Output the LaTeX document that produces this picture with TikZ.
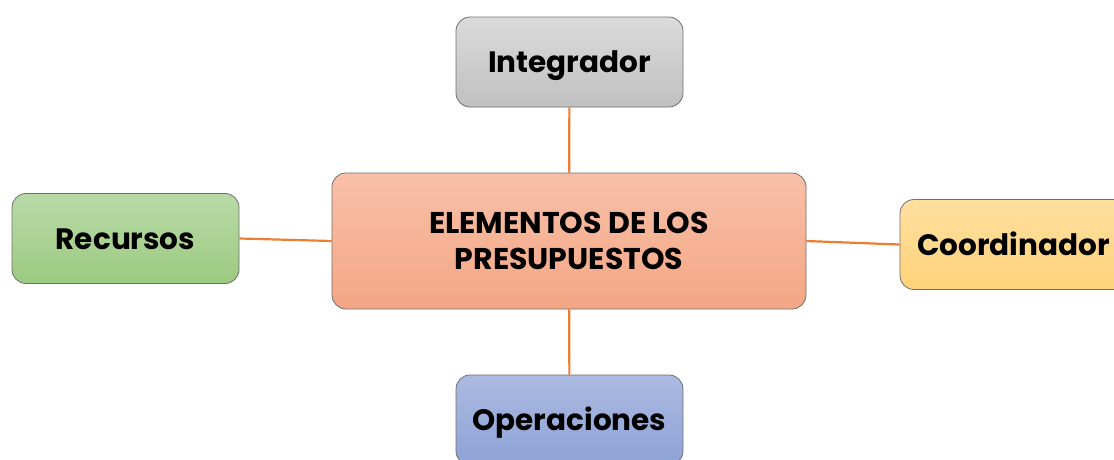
\documentclass[tikz,border=0pt]{standalone}
\usepackage{fontspec}
\setmainfont{Poppins}
\definecolor{linkorange}{HTML}{ED7D31}
\definecolor{rim}{HTML}{6F6F6F}
\begin{document}
\begin{tikzpicture}[x=1pt,y=-1pt,
    box/.style={draw=rim, line width=0.8pt, rounded corners=14pt, minimum width=227pt,
        minimum height=90pt, inner sep=0pt,
        font=\fontsize{29.5}{35}\selectfont\bfseries},
    leaf/.style={box, text height=21pt, text depth=0pt},
    link/.style={draw=linkorange, line width=2.2pt}]
    \useasboundingbox (0,0) rectangle (1114,459);
    % center node
    \node[box, align=center, minimum width=474pt, minimum height=136pt, top color={rgb,255:red,248;green,192;blue,168},
        bottom color={rgb,255:red,244;green,166;blue,132}, font=\fontsize{30}{36}\selectfont\bfseries]
        (presupuestos) at (569,241) {ELEMENTOS DE LOS\\PRESUPUESTOS};
    % outer nodes
    \node[leaf, top color={rgb,255:red,219;green,219;blue,219}, bottom color={rgb,255:red,192;green,192;blue,192}]
        (integrador) at (569.5,62) {Integrador};
    \node[leaf, top color={rgb,255:red,185;green,218;blue,168}, bottom color={rgb,255:red,156;green,202;blue,128}]
        (recursos) at (125.5,238.5) {Recursos};
    \node[leaf, top color={rgb,255:red,255;green,223;blue,160}, bottom color={rgb,255:red,255;green,210;blue,122}]
        (coordinador) at (1013.5,244.5) {Coordinador};
    \node[leaf, top color={rgb,255:red,171;green,186;blue,225}, bottom color={rgb,255:red,142;green,162;blue,214}]
        (operaciones) at (569.5,420) {Operaciones};
    % draw links
    \draw[link] (integrador) -- (presupuestos);
    \draw[link] (presupuestos) -- (operaciones);
    \draw[link] (recursos.east) -- (presupuestos.west);
    \draw[link] (presupuestos.east) -- (coordinador.west);
\end{tikzpicture}
\end{document}
